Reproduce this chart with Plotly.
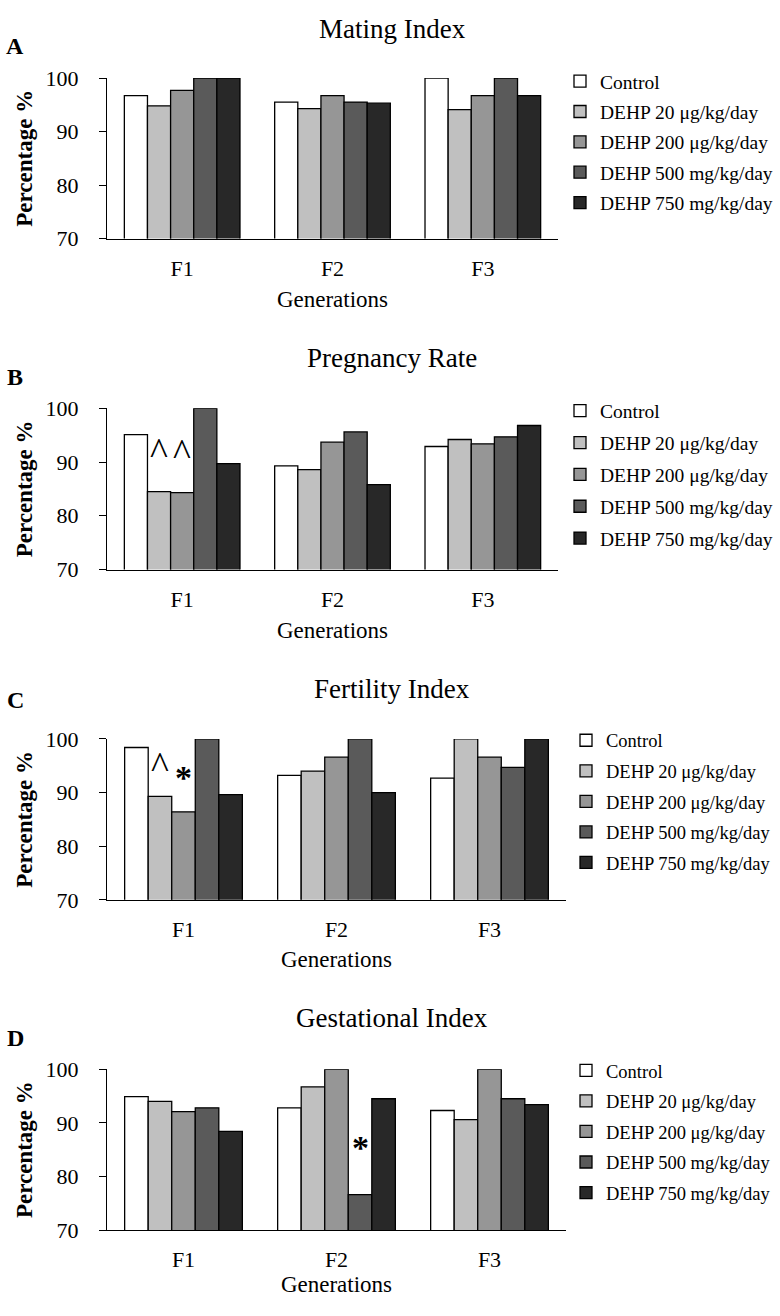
import plotly.graph_objects as go

generations = ["F1", "F2", "F3"]
groups = ["Control", "DEHP 20 μg/kg/day", "DEHP 200 μg/kg/day",
          "DEHP 500 mg/kg/day", "DEHP 750 mg/kg/day"]
panel_titles = ["Mating Index", "Pregnancy Rate", "Fertility Index", "Gestational Index"]
panel_letters = ["A", "B", "C", "D"]

# values per group, per generation (F1, F2, F3)
mating_control = [96.7, 95.5, 100.0]
mating_d20 = [94.8, 94.3, 94.1]
mating_d200 = [97.7, 96.7, 96.7]
mating_d500 = [100.0, 95.5, 100.0]
mating_d750 = [100.0, 95.3, 96.7]

pregnancy_control = [95.1, 89.3, 92.9]
pregnancy_d20 = [84.5, 88.6, 94.2]
pregnancy_d200 = [84.3, 93.7, 93.4]
pregnancy_d500 = [100.0, 95.6, 94.7]
pregnancy_d750 = [89.7, 85.8, 96.8]

fertility_control = [98.4, 93.2, 92.7]
fertility_d20 = [89.3, 94.0, 100.0]
fertility_d200 = [86.4, 96.6, 96.6]
fertility_d500 = [100.0, 100.0, 94.7]
fertility_d750 = [89.6, 90.0, 100.0]

gestational_control = [94.9, 92.8, 92.3]
gestational_d20 = [94.0, 96.7, 90.6]
gestational_d200 = [92.1, 100.0, 100.0]
gestational_d500 = [92.8, 76.6, 94.5]
gestational_d750 = [88.4, 94.5, 93.4]

# significance marks: (panel index, generation index, group index, symbol)
sig_marks = [
    (1, 0, 1, "^"), (1, 0, 2, "^"),
    (2, 0, 1, "^"), (2, 0, 2, "*"),
    (3, 1, 3, "*"),
]

panels = [
    [mating_control, mating_d20, mating_d200, mating_d500, mating_d750],
    [pregnancy_control, pregnancy_d20, pregnancy_d200, pregnancy_d500, pregnancy_d750],
    [fertility_control, fertility_d20, fertility_d200, fertility_d500, fertility_d750],
    [gestational_control, gestational_d20, gestational_d200, gestational_d500, gestational_d750],
]

# ---------------- styling ----------------
W, H = 780, 1316
FONT = "Liberation Serif, Times New Roman, serif"
colors = ["#ffffff", "#c0c0c0", "#969696", "#5a5a5a", "#282828"]
BARGAP = 1.5 / 6.5

# pixel layout of each panel: (x0, x1, ytop, ybottom)
boxes = [(107, 558, 67.3, 231.0), (107, 558, 404.0, 568.3),
         (107, 566, 741.0, 905.0), (107, 566, 1077.7, 1241.7)]
title_y = [17, 353, 690, 1025]
letter_y = [35, 372, 701, 1046]
legend_x = [560, 560, 566, 566]
legend_yc = [132.5, 471.5, 805, 1141.5]
legend_font = [19.5, 19.5, 18.5, 18.5]
legend_gap = [2, 3.5, 3.5, 3.5]
xtick_standoff = [10, 10, 10, 9]
xtitle_standoff = [10, 10, 9, 2]
mark_shift = [41, 41, 31, 34, 47]

def px_x(v):
    return v / W

def px_y(v):
    return 1 - v / H

fig = go.Figure()
layout = dict(
    width=W, height=H, margin=dict(l=0, r=0, t=0, b=0),
    paper_bgcolor="white", plot_bgcolor="white",
    barmode="group", bargap=BARGAP, bargroupgap=0,
    font=dict(family=FONT, color="black"),
    annotations=[],
)

for p, series in enumerate(panels):
    sfx = "" if p == 0 else str(p + 1)
    xa, ya = "x" + sfx, "y" + sfx
    leg = "legend" + sfx
    for g, vals in enumerate(series):
        fig.add_trace(go.Bar(
            x=generations, y=vals, name=groups[g],
            marker=dict(color=colors[g], line=dict(color="black", width=1.3)),
            xaxis=xa, yaxis=ya, legend=leg, legendgroup=f"{p}-{g}",
            showlegend=True,
        ))
    x0, x1, yt, yb = boxes[p]
    layout["xaxis" + sfx] = dict(
        domain=[px_x(x0), px_x(x1)], anchor=ya, type="category",
        showline=True, linecolor="black", linewidth=1.3,
        ticks="", showgrid=False, zeroline=False,
        tickfont=dict(size=22, family=FONT), ticklabelstandoff=xtick_standoff[p],
        title=dict(text="Generations", font=dict(size=23, family=FONT),
                   standoff=xtitle_standoff[p]),
    )
    layout["yaxis" + sfx] = dict(
        domain=[px_y(yb), px_y(yt)], anchor=xa, range=[70, 100],
        tickvals=[70, 80, 90, 100], showline=True, linecolor="black", linewidth=1.3,
        ticks="outside", ticklen=7, tickwidth=1.3, tickcolor="black",
        showgrid=False, zeroline=False,
        tickfont=dict(size=22, family=FONT), ticklabelstandoff=16,
        title=dict(text="<b>Percentage %</b>", font=dict(size=23, family=FONT), standoff=6),
    )
    layout[leg] = dict(
        x=px_x(legend_x[p]), y=px_y(legend_yc[p]), xanchor="left", yanchor="middle",
        font=dict(size=legend_font[p], family=FONT), tracegroupgap=legend_gap[p],
        bgcolor="rgba(0,0,0,0)", traceorder="grouped",
    )
    layout["annotations"].append(dict(
        text=panel_titles[p], x=px_x(392), y=px_y(title_y[p]), xref="paper", yref="paper",
        showarrow=False, font=dict(size=27, family=FONT), xanchor="center", yanchor="middle",
    ))
    layout["annotations"].append(dict(
        text="<b>" + panel_letters[p] + "</b>", x=px_x(15), y=px_y(letter_y[p]),
        xref="paper", yref="paper", showarrow=False,
        font=dict(size=24, family=FONT), xanchor="center", yanchor="middle",
    ))

# significance marks placed above their bars
bar_w = (1 - BARGAP) / len(groups)
for k, (p, gi, g, sym) in enumerate(sig_marks):
    sfx = "" if p == 0 else str(p + 1)
    val = panels[p][g][gi]
    xpos = gi - (1 - BARGAP) / 2 + bar_w * (g + 0.5)
    if sym == "^":
        txt, size = "^", 38
    else:
        txt, size = "<b>*</b>", 34
    layout["annotations"].append(dict(
        text=txt, x=xpos, y=val, xref="x" + sfx, yref="y" + sfx,
        showarrow=False, font=dict(size=size, family=FONT), yshift=mark_shift[k],
        xanchor="center", yanchor="middle",
    ))

fig.update_layout(**layout)
fig.write_html("out.html", config={"displayModeBar": False},
               post_script="document.body.style.margin='0';")
